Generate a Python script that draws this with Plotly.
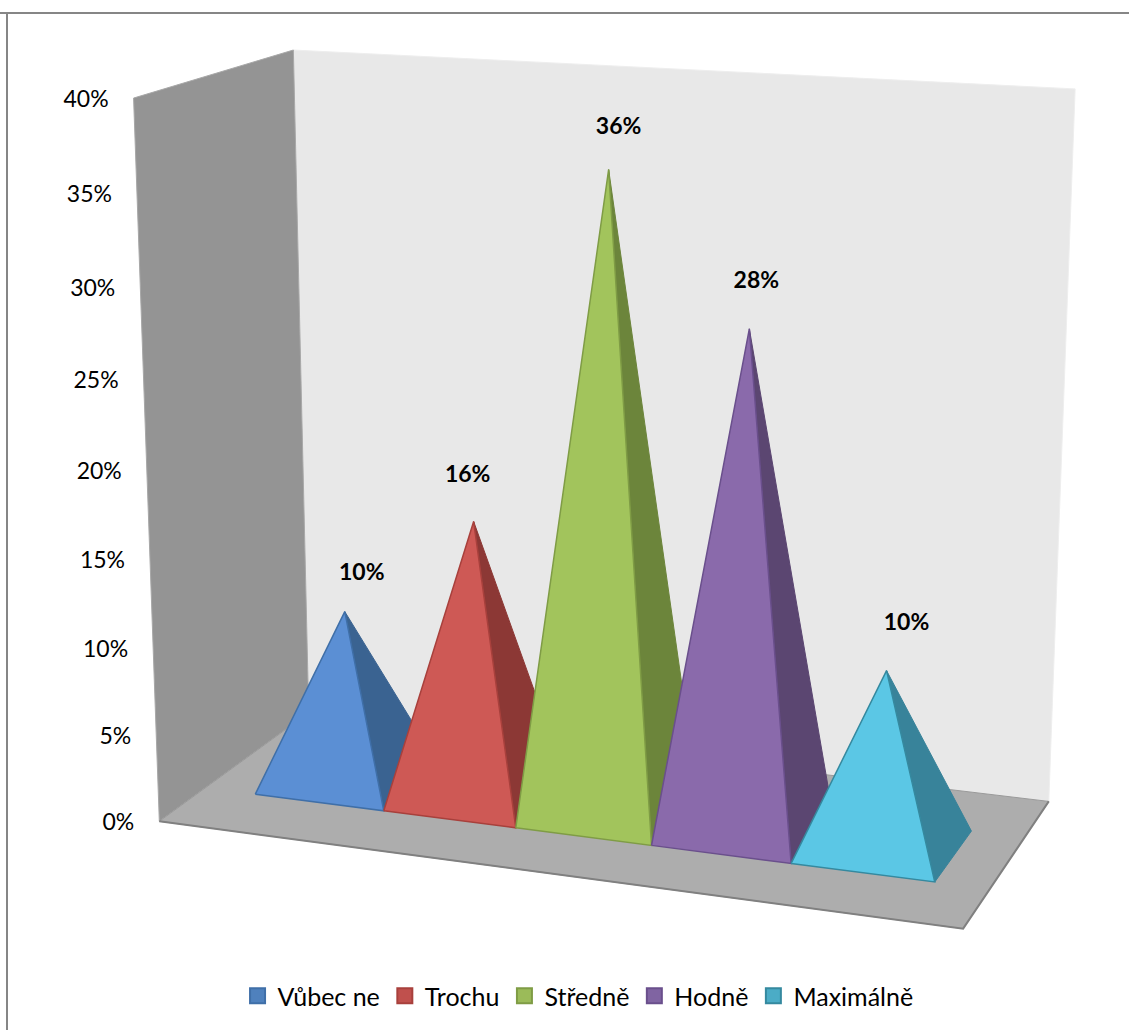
import numpy as np
import plotly.graph_objects as go

categories = ["Vůbec ne", "Trochu", "Středně", "Hodně", "Maximálně"]
values = [10, 16, 36, 28, 10]
tick_values = [0, 5, 10, 15, 20, 25, 30, 35, 40]
front_colors = ["#5b8fd4", "#ce5955", "#a2c45c", "#8a6aab", "#5bc7e5"]
side_colors = ["#3a6391", "#8c3835", "#6c853b", "#5b4671", "#38839a"]
edge_colors = ["#3f6fa8", "#a8403c", "#7f9c45", "#6a4f8c", "#35899f"]
legend_colors = ["#4f81bd", "#c0504d", "#9bbb59", "#8064a2", "#4bacc6"]
label_dx = [17, -6, 10, 7, 20]
label_dy = [-37, -45, -41, -47, -46]

W, H = 1129, 1030
FONT = "Lato"
AXIS_MAX = 40

# Camera of the 3D box, solved from where its corners fall on the page.
# model coordinates: u along categories (0-1), d depth (0 front, 1 back), v value
box_corners = [
    ((0, 0, 0), (160, 821)), ((1, 0, 0), (963, 929)),
    ((1, 1, 0), (1049, 801)), ((0, 1, 0), (308, 713)),
    ((0, 0, AXIS_MAX), (133, 98)), ((0, 1, AXIS_MAX), (294, 50)),
    ((1, 1, AXIS_MAX), (1075, 89)),
]
rows = []
for (u, d, v), (px, py) in box_corners:
    m = [u, d, v / AXIS_MAX, 1]
    rows.append(m + [0, 0, 0, 0] + [-px * a for a in m])
    rows.append([0, 0, 0, 0] + m + [-py * a for a in m])
P = np.linalg.svd(np.array(rows, float))[2][-1].reshape(3, 4)


def project(u, d, v):
    p = P @ np.array([u, d, v / AXIS_MAX, 1.0])
    return p[0] / p[2], p[1] / p[2]


def poly(points, close=True):
    pts = [project(*p) for p in points]
    if close:
        pts.append(pts[0])
    return [a for a, _ in pts], [b for _, b in pts]


U0, U1 = 0.0685, 0.935  # span of the pyramids along the category axis
D0, D1 = 0.29, 0.695    # span of the pyramids in depth

fig = go.Figure()


def face(points, fill, line, width=1.5):
    x, y = poly(points)
    fig.add_trace(go.Scatter(x=x, y=y, mode="lines", fill="toself", fillcolor=fill,
                             line=dict(color=line, width=width), showlegend=False,
                             hoverinfo="skip"))


face([(0, 1, 0), (0, 1, AXIS_MAX), (1, 1, AXIS_MAX), (1, 1, 0)], "#e8e8e8", "#eeeeee", 1)
face([(0, 0, 0), (0, 0, AXIS_MAX), (0, 1, AXIS_MAX), (0, 1, 0)], "#949494", "#a8a8a8", 1)
face([(0, 0, 0), (1, 0, 0), (1, 1, 0), (0, 1, 0)], "#adadad", "#9a9a9a", 1)
fx, fy = poly([(0, 0, 0), (1, 0, 0), (1, 1, 0)], close=False)
fig.add_trace(go.Scatter(x=fx, y=fy, mode="lines", line=dict(color="#808080", width=2),
                         showlegend=False, hoverinfo="skip"))

n = len(categories)
step = (U1 - U0) / n
for i, val in enumerate(values):
    a, b = U0 + i * step, U0 + (i + 1) * step
    mid = (a + b) / 2
    apex = (mid, (D0 + D1) / 2, val)
    face([(b, D0, 0), (b, D1, 0), apex], side_colors[i], side_colors[i], 1)
    face([(a, D0, 0), (b, D0, 0), apex], front_colors[i], edge_colors[i], 1.5)

# value labels above each apex
lx, ly = [], []
for i, val in enumerate(values):
    mid = U0 + (i + 0.5) * step
    ax, ay = project(mid, (D0 + D1) / 2, val)
    lx.append(ax + label_dx[i])
    ly.append(ay + label_dy[i])
fig.add_trace(go.Scatter(x=lx, y=ly, mode="text", text=[f"{v}%" for v in values],
                         textfont=dict(family=FONT, size=23, color="#000000", weight="bold"),
                         textposition="middle center", showlegend=False, hoverinfo="skip"))

# value axis tick labels beside the front edge of the left wall
tx, ty = [], []
for t in tick_values:
    ax, ay = project(0, 0, t)
    tx.append(ax - 25)
    ty.append(ay + 3)
fig.add_trace(go.Scatter(x=tx, y=ty, mode="text", text=[f"{t}%" for t in tick_values],
                         textfont=dict(family=FONT, size=23, color="#000000"),
                         textposition="middle left", showlegend=False, hoverinfo="skip"))

# legend entries
for name, col, edge in zip(categories, legend_colors, edge_colors):
    fig.add_trace(go.Scatter(x=[None], y=[None], mode="markers", name=name,
                             marker=dict(symbol="square", size=15, color=col,
                                         line=dict(color=edge, width=2))))

fig.update_layout(
    width=W, height=H, margin=dict(l=0, r=0, t=0, b=0),
    paper_bgcolor="white", plot_bgcolor="white",
    xaxis=dict(range=[0, W], visible=False, fixedrange=True),
    yaxis=dict(range=[H, 0], visible=False, fixedrange=True),
    font=dict(family=FONT, size=25, color="#000000"),
    legend=dict(orientation="h", x=0.512, xanchor="center", y=1 - 996 / H, yanchor="middle",
                bgcolor="rgba(0,0,0,0)", itemclick=False, itemdoubleclick=False),
    shapes=[
        dict(type="line", xref="paper", yref="paper", x0=0, x1=1, y0=1 - 13 / H, y1=1 - 13 / H,
             line=dict(color="#868686", width=2)),
        dict(type="line", xref="paper", yref="paper", x0=7 / W, x1=7 / W, y0=0, y1=1 - 13 / H,
             line=dict(color="#868686", width=2)),
    ],
)

fig.write_html("out.html", config={"displayModeBar": False},
               post_script="document.body.style.margin='0';")
